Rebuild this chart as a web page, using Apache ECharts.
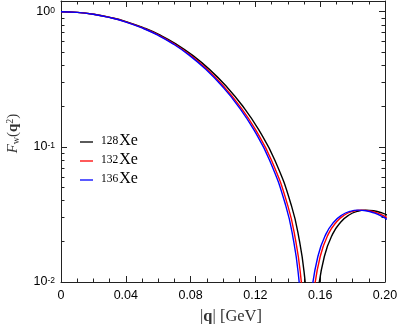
<!DOCTYPE html>
<html><head><meta charset="utf-8">
<script src="https://cdn.jsdelivr.net/npm/echarts@6/dist/echarts.min.js"></script>
<style>html,body{margin:0;padding:0;background:#fff}#c{width:399px;height:324px}</style>
</head><body><div id="c"></div>
<script>
const isotopes = ['128', '132', '136'];
const seriesColors = ['#000000', '#ff0000', '#0000ff'];

const q128 = [0, 0.01016, 0.02032, 0.03048, 0.04064, 0.0508, 0.06096, 0.07112, 0.08128, 0.09144, 0.1016, 0.11176, 0.12192, 0.13208, 0.14224, 0.14732, 0.15037, 0.1524, 0.15342, 0.15443, 0.15545, 0.15646, 0.1585, 0.16256, 0.16764, 0.17272, 0.1778, 0.18288, 0.18796, 0.19304, 0.19812, 0.2032, 0.20828];
const f128 = [1.0, 0.9890, 0.9575, 0.9075, 0.8420, 0.7620, 0.6730, 0.5760, 0.4750, 0.3760, 0.2840, 0.2030, 0.1345, 0.07934, 0.03673, 0.01977, 0.01095, 0.005521, 0.003010, 0.000604, 0.001728, 0.004001, 0.008178, 0.01544, 0.02260, 0.02781, 0.03130, 0.03329, 0.03401, 0.03365, 0.03243, 0.03054, 0.02814];

const q132 = [0, 0.01, 0.02, 0.03, 0.04, 0.05, 0.06, 0.07, 0.08, 0.09, 0.10, 0.11, 0.12, 0.13, 0.14, 0.145, 0.148, 0.15, 0.151, 0.152, 0.153, 0.154, 0.156, 0.16, 0.165, 0.17, 0.175, 0.18, 0.185, 0.19, 0.195, 0.2, 0.205];
const f132 = [1.0, 0.9890, 0.9575, 0.9075, 0.8420, 0.7620, 0.6730, 0.5760, 0.4750, 0.3760, 0.2840, 0.2030, 0.1345, 0.07934, 0.03673, 0.01977, 0.01095, 0.005521, 0.003010, 0.000604, 0.001728, 0.004001, 0.008178, 0.01544, 0.02260, 0.02781, 0.03130, 0.03329, 0.03401, 0.03365, 0.03243, 0.03054, 0.02814];

const q136 = [0, 0.00991, 0.01982, 0.02973, 0.03964, 0.04955, 0.05946, 0.06937, 0.07928, 0.08919, 0.0991, 0.10901, 0.11892, 0.12883, 0.13874, 0.1437, 0.14667, 0.14865, 0.14964, 0.15063, 0.15162, 0.15261, 0.1546, 0.15856, 0.16352, 0.16847, 0.17343, 0.17838, 0.18334, 0.18829, 0.19325, 0.1982, 0.20316];
const f136 = [1.0, 0.9890, 0.9575, 0.9075, 0.8420, 0.7620, 0.6730, 0.5760, 0.4750, 0.3760, 0.2840, 0.2030, 0.1345, 0.07934, 0.03673, 0.01977, 0.01095, 0.005521, 0.003010, 0.000604, 0.001728, 0.004001, 0.008178, 0.01544, 0.02260, 0.02781, 0.03130, 0.03329, 0.03401, 0.03365, 0.03243, 0.03054, 0.02814];

const xMajorTicks = [0, 0.04, 0.08, 0.12, 0.16, 0.2];
const xMinorTicks = [0.01, 0.02, 0.03, 0.05, 0.06, 0.07, 0.09, 0.10, 0.11, 0.13, 0.14, 0.15, 0.17, 0.18, 0.19];
const xTickLabels = ['0', '0.04', '0.08', '0.12', '0.16', '0.20'];
const yMajorTicks = [0.01, 0.1, 1];
const yMinorTicks = [0.02, 0.03, 0.04, 0.05, 0.06, 0.07, 0.08, 0.09, 0.2, 0.3, 0.4, 0.5, 0.6, 0.7, 0.8, 0.9];
const yTickExponents = ['-2', '-1', '0'];

const qs = [q128, q132, q136];
const fs = [f128, f132, f136];

const axisColor = '#222';
const serif = '"Liberation Serif", "DejaVu Serif", serif';
const sans = '"Liberation Sans", Arial, sans-serif';

function xAxisDef(pos, major, withLabel) {
  return {
    type: 'value', position: pos, min: 0, max: 0.2,
    axisLine: { show: major, onZero: false, lineStyle: { color: axisColor, width: 1 } },
    splitLine: { show: false },
    axisTick: { show: true, inside: true, length: major ? 6 : 3.5, customValues: major ? xMajorTicks : xMinorTicks, lineStyle: { color: axisColor, width: 1 } },
    axisLabel: withLabel ? {
      show: true, customValues: xMajorTicks, margin: 7,
      formatter: v => xTickLabels[xMajorTicks.findIndex(t => Math.abs(t - v) < 1e-9)] || '',
      fontSize: 12.5, fontFamily: sans, color: '#000'
    } : { show: false }
  };
}
function yAxisDef(pos, major, withLabel) {
  return {
    type: 'log', logBase: 10, position: pos, min: 0.01, max: 1.2,
    axisLine: { show: major, onZero: false, lineStyle: { color: axisColor, width: 1 } },
    splitLine: { show: false },
    axisTick: { show: true, inside: true, length: major ? 6 : 3.5, customValues: major ? yMajorTicks : yMinorTicks, lineStyle: { color: axisColor, width: 1 } },
    axisLabel: withLabel ? {
      show: true, customValues: yMajorTicks, margin: 6,
      formatter: v => {
        const i = yMajorTicks.findIndex(t => Math.abs(Math.log10(t) - Math.log10(v)) < 1e-6);
        return i < 0 ? '' : '{b|10}{s|' + yTickExponents[i] + '}';
      },
      rich: {
        b: { fontSize: 12.5, fontFamily: sans, color: '#000', lineHeight: 12, verticalAlign: 'bottom' },
        s: { fontSize: 8.5, fontFamily: sans, color: '#000', lineHeight: 12, verticalAlign: 'top', padding: [0, 0, 5, 0] }
      }
    } : { show: false }
  };
}

const xAxes = [xAxisDef('bottom', true, true), xAxisDef('bottom', false, false), xAxisDef('top', true, false), xAxisDef('top', false, false)];
xAxes[0].name = '{n||}{q|q}{n|| [GeV]}';
xAxes[0].nameLocation = 'middle';
xAxes[0].nameGap = 26;
xAxes[0].nameTextStyle = { padding: [0, 0, 0, 16], rich: {
  n: { fontSize: 16.5, fontFamily: serif, color: '#333' },
  q: { fontSize: 16.5, fontFamily: serif, fontWeight: 'bold', color: '#333' }
} };
const yAxes = [yAxisDef('left', true, true), yAxisDef('left', false, false), yAxisDef('right', true, false), yAxisDef('right', false, false)];
yAxes[0].name = '{i|F}{sub|w}{n|(}{q|q}{sup|2}{n|)}';
yAxes[0].nameLocation = 'middle';
yAxes[0].nameGap = 40;
yAxes[0].nameRotate = 90;
yAxes[0].nameTextStyle = { padding: [0, 0, 0, 16], rich: {
  i: { fontSize: 15, fontFamily: serif, fontStyle: 'italic', color: '#333', lineHeight: 16, verticalAlign: 'middle' },
  n: { fontSize: 15, fontFamily: serif, color: '#333', lineHeight: 16, verticalAlign: 'middle' },
  q: { fontSize: 15, fontFamily: serif, fontWeight: 'bold', color: '#333', lineHeight: 16, verticalAlign: 'middle' },
  sub: { fontSize: 10, fontFamily: serif, color: '#333', lineHeight: 10, verticalAlign: 'bottom', padding: [7, 0, 0, 0] },
  sup: { fontSize: 10, fontFamily: serif, color: '#333', lineHeight: 10, verticalAlign: 'top', padding: [0, 0, 7, 0] }
} };

const series = isotopes.map((iso, k) => ({
  name: iso + 'Xe', type: 'line', xAxisIndex: 0, yAxisIndex: 0,
  data: qs[k].map((q, i) => [q, fs[k][i]]),
  showSymbol: false, symbol: 'none', smooth: 0.5,
  lineStyle: { color: seriesColors[k], width: 1.4 },
  itemStyle: { color: seriesColors[k] },
  clip: true, animation: false
}));

const chart = echarts.init(document.getElementById('c'), null, { renderer: 'canvas' });
chart.setOption({
  animation: false,
  backgroundColor: '#fff',
  grid: { left: 61, right: 14, top: 1, bottom: 42, containLabel: false, outerBoundsMode: 'none' },
  xAxis: xAxes,
  yAxis: yAxes,
  legend: {
    orient: 'vertical', left: 80, top: 133, padding: 0, itemGap: -1.5,
    icon: 'rect', itemWidth: 13, itemHeight: 1.3,
    data: isotopes.map(iso => iso + 'Xe'),
    formatter: name => '{s|' + name.replace('Xe', '') + '}{b|Xe}',
    textStyle: { rich: {
      b: { fontSize: 16, fontFamily: serif, color: '#000', lineHeight: 14, verticalAlign: 'bottom' },
      s: { fontSize: 11.5, fontFamily: serif, color: '#000', lineHeight: 10, verticalAlign: 'top', padding: [0, 1, 6.5, 3] }
    } }
  },
  series: series
});
</script>
</body></html>
